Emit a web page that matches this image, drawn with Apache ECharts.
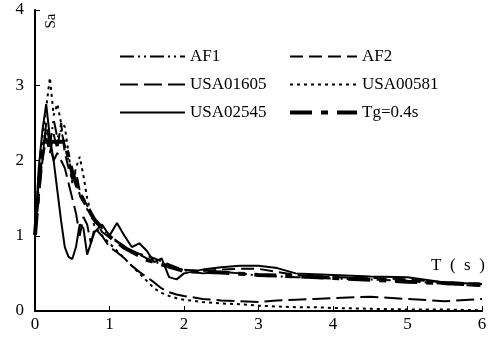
<!DOCTYPE html>
<html>
<head>
<meta charset="utf-8">
<script src="https://cdn.jsdelivr.net/npm/echarts@6/dist/echarts.min.js"></script>
<style>
  html, body { margin: 0; padding: 0; background: #fff; }
  #chart { width: 491px; height: 342px; }
</style>
</head>
<body>
<div id="chart"></div>
<script>
// periods (s) shared by the five records
const periods = [0, 0.05, 0.1, 0.15, 0.2, 0.25, 0.3, 0.35, 0.4, 0.45, 0.5, 0.55, 0.6, 0.65, 0.7, 0.75, 0.8, 0.9, 1.0, 1.1,
  1.2, 1.3, 1.4, 1.5, 1.6, 1.7, 1.8, 1.9, 2.0, 2.25, 2.5, 2.75, 3.0, 3.25, 3.5, 3.75, 4.0, 4.5, 5.0, 5.5, 6.0];

const saAF1 = [1.0, 1.65, 2.1, 2.4, 2.2, 2.55, 2.3, 2.4, 2.2, 2.0, 1.85, 1.7, 1.55, 1.45, 1.35, 1.28, 1.2, 1.1, 1.0, 0.93,
  0.86, 0.8, 0.75, 0.7, 0.66, 0.62, 0.6, 0.57, 0.54, 0.5, 0.52, 0.5, 0.47, 0.46, 0.45, 0.44, 0.43, 0.42, 0.4, 0.36, 0.33];
const saAF2 = [1.0, 1.75, 2.0, 2.3, 2.1, 2.35, 2.15, 2.5, 2.1, 1.9, 1.75, 1.85, 1.6, 1.5, 1.4, 1.3, 1.22, 1.05, 0.98, 0.92,
  0.84, 0.8, 0.76, 0.73, 0.7, 0.66, 0.62, 0.58, 0.55, 0.53, 0.55, 0.56, 0.56, 0.52, 0.48, 0.46, 0.45, 0.44, 0.42, 0.38, 0.36];
const saUSA01605 = [1.0, 1.5, 2.0, 2.5, 2.2, 2.0, 2.1, 2.0, 1.9, 1.7, 1.5, 1.3, 1.0, 1.25, 1.15, 0.9, 1.1, 1.0, 0.85, 0.78,
  0.7, 0.6, 0.52, 0.45, 0.38, 0.3, 0.25, 0.22, 0.2, 0.16, 0.14, 0.13, 0.12, 0.14, 0.15, 0.16, 0.17, 0.19, 0.16, 0.13, 0.16];
const saUSA00581 = [1.0, 1.8, 2.3, 2.7, 3.1, 2.6, 2.75, 2.5, 2.45, 2.1, 1.7, 1.9, 2.05, 1.8, 1.5, 1.3, 1.12, 1.0, 0.9, 0.8,
  0.7, 0.6, 0.5, 0.4, 0.3, 0.24, 0.2, 0.17, 0.15, 0.12, 0.1, 0.09, 0.07, 0.06, 0.05, 0.05, 0.04, 0.03, 0.02, 0.02, 0.01];
const saUSA02545 = [1.0, 1.9, 2.4, 2.75, 2.3, 2.0, 1.6, 1.2, 0.85, 0.72, 0.69, 0.85, 1.15, 1.1, 0.75, 0.9, 1.05, 1.15, 1.0, 1.17,
  1.0, 0.85, 0.9, 0.8, 0.65, 0.7, 0.45, 0.42, 0.5, 0.55, 0.58, 0.6, 0.6, 0.57, 0.5, 0.49, 0.48, 0.46, 0.45, 0.38, 0.36];

// design spectrum, Tg = 0.4s
const periodsTg = [0, 0.1, 0.4, 0.5, 0.6, 0.8, 1.0, 1.2, 1.5, 2.0, 2.5, 3.0, 4.0, 5.0, 6.0];
const saTg = [1.01, 2.25, 2.25, 1.84, 1.56, 1.21, 0.99, 0.84, 0.68, 0.53, 0.51, 0.48, 0.44, 0.39, 0.35];

const xTicks = [0, 1, 2, 3, 4, 5, 6];
const yTicks = [0, 1, 2, 3, 4];

const FONT = "'Liberation Serif', 'Times New Roman', serif";

function zip(xs, ys) {
  return xs.map((x, i) => [x, ys[i]]);
}

function lineSeries(name, xs, ys, type, width) {
  return {
    name: name,
    type: "line",
    data: zip(xs, ys),
    symbol: "none",
    showSymbol: false,
    lineStyle: { color: "#000", width: width, type: type },
    itemStyle: { color: "#000" },
    emphasis: { disabled: true },
    z: width > 3 ? 3 : 2,
  };
}

const myChart = echarts.init(document.getElementById("chart"));

const legendText = { color: "#000", fontSize: 17, fontFamily: FONT };

function legendCol(names, left, width) {
  return {
    data: names,
    orient: "vertical",
    left: left,
    top: 48,
    padding: 0,
    itemWidth: width,
    itemHeight: 12,
    itemGap: 11,
    itemStyle: { opacity: 0 },
    textStyle: legendText,
    selectedMode: false,
  };
}

const option = {
  animation: false,
  backgroundColor: "#fff",
  grid: { left: 35, right: 9, top: 10, bottom: 31, containLabel: false },
  legend: [
    legendCol(["AF1", "USA01605", "USA02545"], 119, 65),
    legendCol(["AF2", "USA00581", { name: "Tg=0.4s", lineStyle: { width: 4 } }], 288, 67),
  ],
  xAxis: {
    type: "value",
    min: 0,
    max: 6,
    interval: 1,
    axisLine: { lineStyle: { color: "#000", width: 2 } },
    axisTick: { inside: true, length: 5, lineStyle: { color: "#000", width: 1 } },
    axisLabel: {
      color: "#000", fontSize: 17, fontFamily: FONT, margin: 5,
      formatter: (v) => (xTicks.includes(v) ? String(v) : ""),
    },
    splitLine: { show: false },
  },
  yAxis: {
    type: "value",
    min: 0,
    max: 4,
    interval: 1,
    axisLine: { show: true, lineStyle: { color: "#000", width: 2 } },
    axisTick: { show: true, inside: true, length: 5, lineStyle: { color: "#000", width: 1 } },
    axisLabel: {
      color: "#000", fontSize: 17, fontFamily: FONT, margin: 11,
      formatter: (v) => (yTicks.includes(v) ? String(v) : ""),
    },
    splitLine: { show: false },
  },
  graphic: [
    {
      type: "text",
      x: 51,
      y: 21,
      rotation: Math.PI / 2,
      style: { text: "Sa", fill: "#000", font: "15px " + FONT, align: "center", verticalAlign: "middle" },
    },
    {
      type: "text",
      left: 431,
      top: 257,
      style: { text: "T  (  s  )", fill: "#000", font: "17px " + FONT },
    },
  ],
  series: [
    lineSeries("AF1", periods, saAF1, [14, 4, 2, 4, 2, 4], 2),
    lineSeries("AF2", periods, saAF2, [13, 6], 2),
    lineSeries("USA01605", periods, saUSA01605, [18, 6], 2),
    lineSeries("USA00581", periods, saUSA00581, [3, 4], 2),
    lineSeries("USA02545", periods, saUSA02545, "solid", 2),
    lineSeries("Tg=0.4s", periodsTg, saTg, [22, 9, 7, 9], 4),
  ],
};

myChart.setOption(option);
</script>
</body>
</html>
